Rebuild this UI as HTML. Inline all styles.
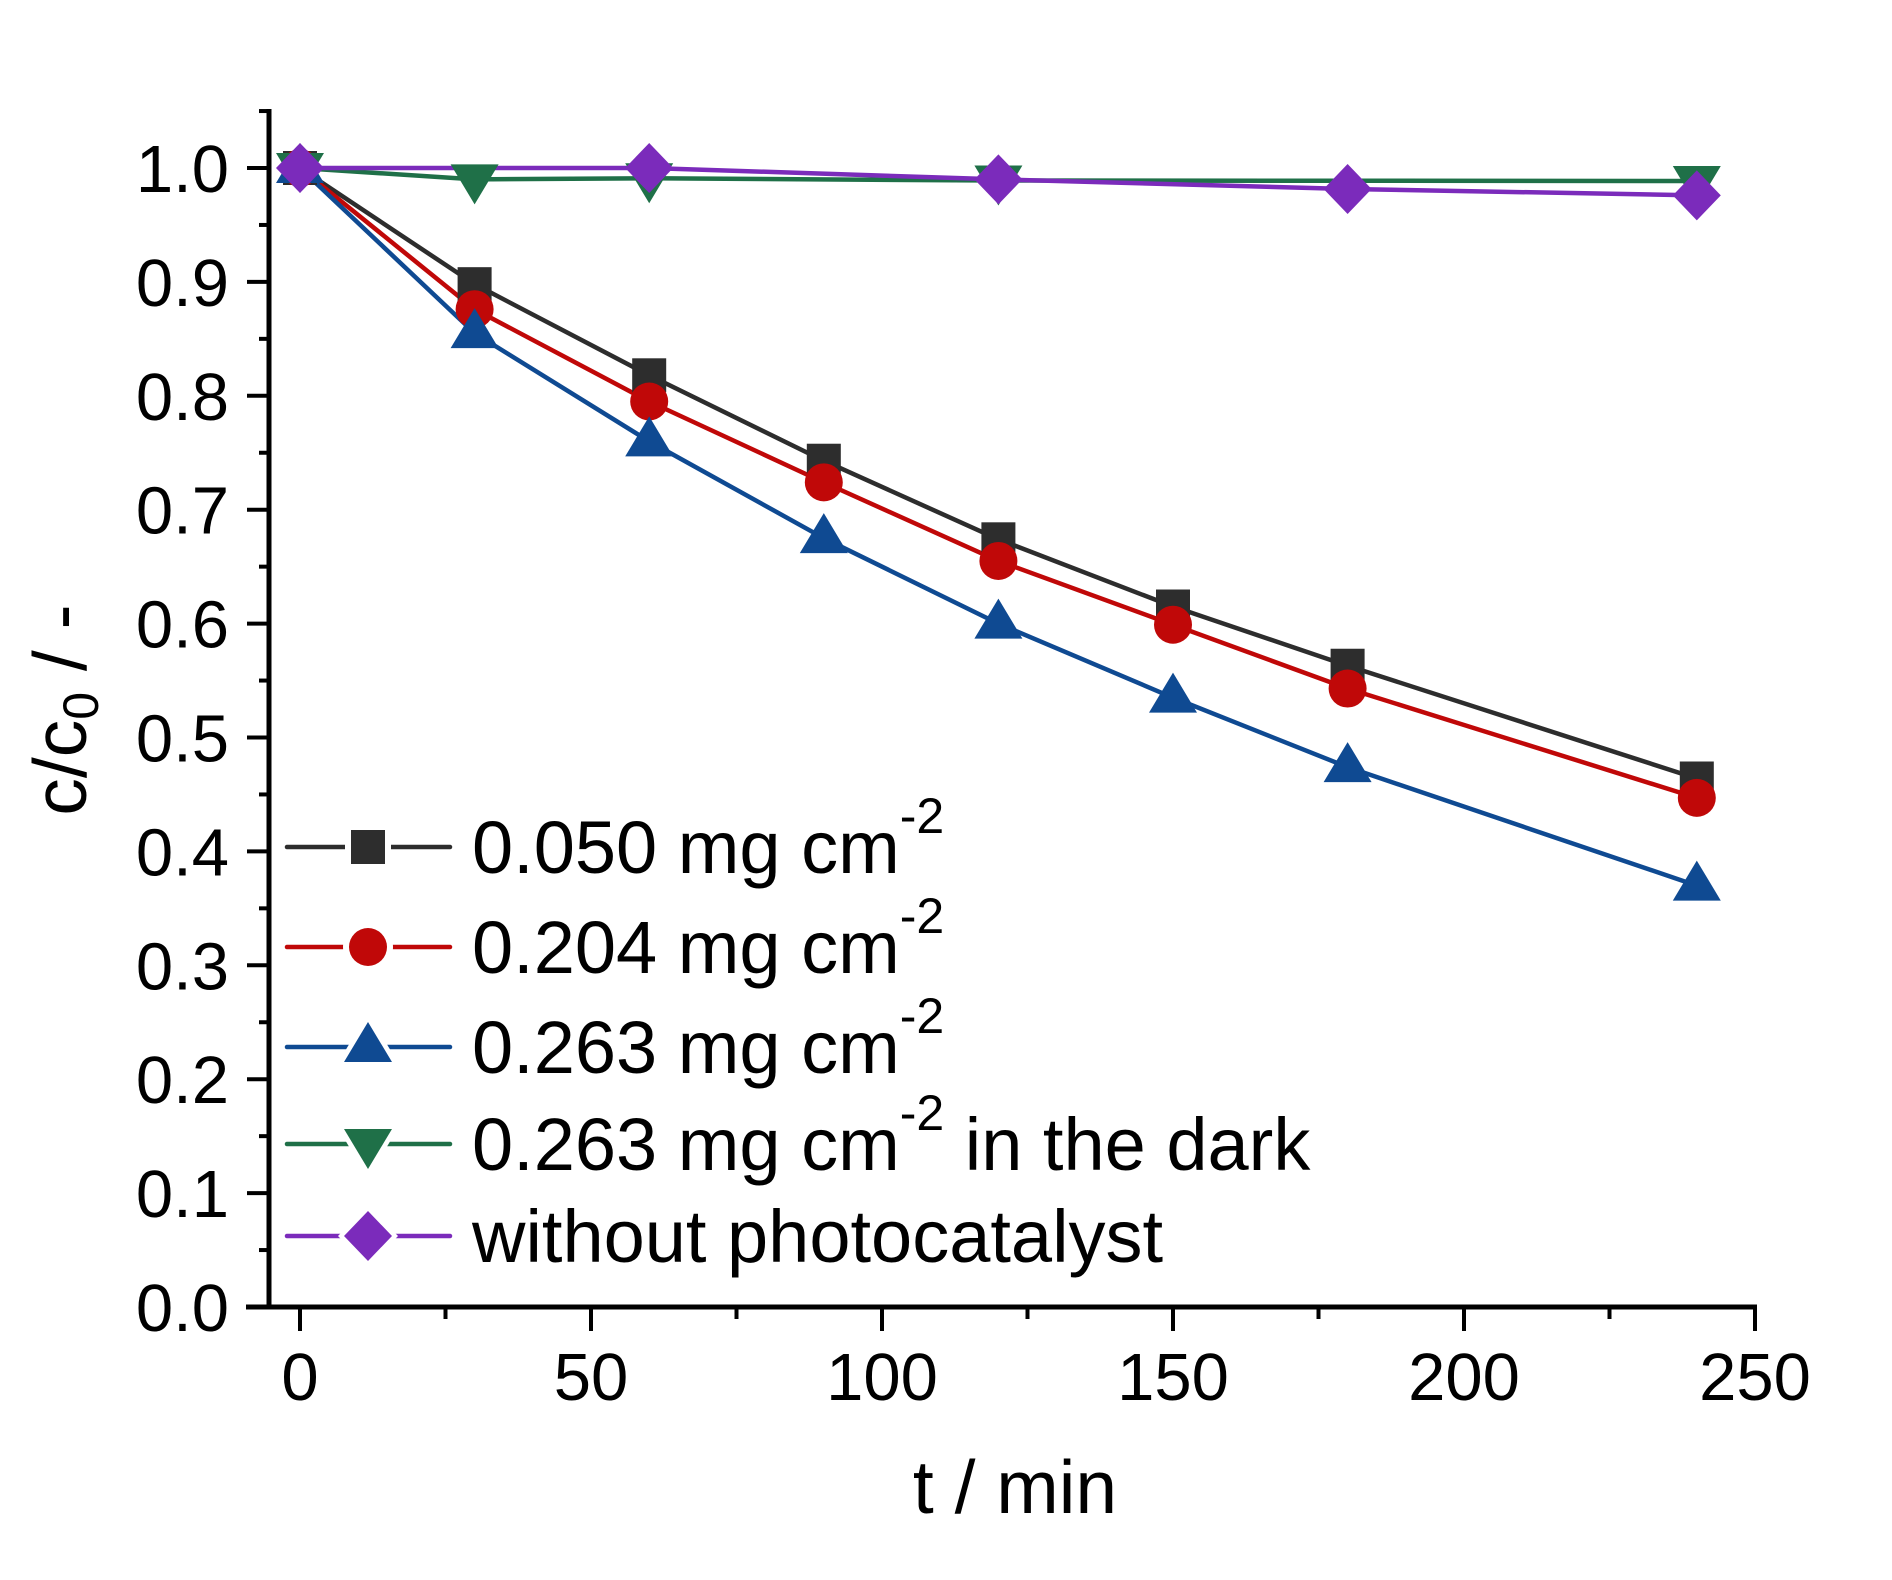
<!DOCTYPE html>
<html><head><meta charset="utf-8"><style>
html,body{margin:0;padding:0;background:#fff;}
svg{display:block;font-family:"Liberation Sans",Arial,sans-serif;}
</style></head><body>
<svg width="1892" height="1580" viewBox="0 0 1892 1580" xmlns="http://www.w3.org/2000/svg">
<rect width="1892" height="1580" fill="#fff"/>
<g id="plot"></g>
</svg>
<script>
const NS="http://www.w3.org/2000/svg";
const g=document.getElementById("plot");
function el(t,a,txt){const e=document.createElementNS(NS,t);for(const k in a)e.setAttribute(k,a[k]);if(txt!==undefined)e.textContent=txt;g.appendChild(e);return e;}
const X=t=>300+5.82*t, Y=v=>1307-1139*v;
el("line",{x1:269,y1:109,x2:269,y2:1309,stroke:"#000","stroke-width":5});
el("line",{x1:246,y1:1307,x2:1757,y2:1307,stroke:"#000","stroke-width":5});
for(let i=0;i<=10;i++){const y=Y(i/10);el("line",{x1:247,y1:y,x2:269,y2:y,stroke:"#000","stroke-width":4});
 el("text",{x:229,y:y+24,"font-size":67,"text-anchor":"end"},(i/10).toFixed(1));
 if(i<10){const ym=Y(i/10+0.05);el("line",{x1:259,y1:ym,x2:269,y2:ym,stroke:"#000","stroke-width":4});}}
el("line",{x1:259,y1:Y(1.05),x2:269,y2:Y(1.05),stroke:"#000","stroke-width":4});
for(let t=0;t<=250;t+=50){const x=X(t);el("line",{x1:x,y1:1307,x2:x,y2:1331,stroke:"#000","stroke-width":4});
 el("text",{x:x,y:1400,"font-size":67,"text-anchor":"middle"},String(t));
 if(t<250){el("line",{x1:X(t+25),y1:1307,x2:X(t+25),y2:1319,stroke:"#000","stroke-width":4});}}
el("text",{x:1015,y:1513,"font-size":75,"text-anchor":"middle"},"t / min");
const yl=el("text",{x:0,y:0,"font-size":75,"text-anchor":"middle",transform:"translate(86,710) rotate(-90)"});
yl.innerHTML='c/c<tspan font-size="50" dy="12">0</tspan><tspan dy="-12"> / -</tspan>';
function marker(type,x,y,col,pad){
 const s=pad?6:0;const f=pad?"#fff":col;
 if(type=="sq")el("rect",{x:x-17-s,y:y-17-s,width:34+2*s,height:34+2*s,fill:f});
 if(type=="ci")el("circle",{cx:x,cy:y,r:19+s,fill:f});
 if(type=="tu")el("polygon",{points:`${x},${y-25-s*1.6} ${x+24+s*1.5},${y+15+s} ${x-24-s*1.5},${y+15+s}`,fill:f});
 if(type=="td")el("polygon",{points:`${x},${y+25+s*1.6} ${x+24+s*1.5},${y-15-s} ${x-24-s*1.5},${y-15-s}`,fill:f});
 if(type=="di")el("polygon",{points:`${x},${y-25-s} ${x+24+s},${y} ${x},${y+25+s} ${x-24-s},${y}`,fill:f});
}
const series=[
 ["sq","#2d2d2d",[[0,1],[30,.898],[60,.818],[90,.743],[120,.674],[150,.615],[180,.563],[240,.464]]],
 ["ci","#c00808",[[0,1],[30,.876],[60,.795],[90,.724],[120,.655],[150,.599],[180,.543],[240,.447]]],
 ["tu","#0f4a92",[[0,1],[30,.855],[60,.76],[90,.675],[120,.60],[150,.535],[180,.474],[240,.37]]],
 ["td","#1f7048",[[0,1],[30,.99],[60,.991],[120,.989],[240,.9886]]],
 ["di","#7b2bbb",[[0,1],[60,1.0],[120,.99],[180,.9816],[240,.976]]]
];
for(const [m,c,d] of series){
 el("polyline",{points:d.map(p=>X(p[0])+","+Y(p[1])).join(" "),fill:"none",stroke:c,"stroke-width":4.5,"stroke-linejoin":"round"});
}
for(const [m,c,d] of series){for(const p of d){marker(m,X(p[0]),Y(p[1]),c,false);}}
const leg=[["sq","#2d2d2d","0.050 mg cm","",847],["ci","#c00808","0.204 mg cm","",947],["tu","#0f4a92","0.263 mg cm","",1047],["td","#1f7048","0.263 mg cm"," in the dark",1144],["di","#7b2bbb","without photocatalyst",null,1236]];
for(const [m,c,t,tail,y] of leg){
 el("line",{x1:287,y1:y,x2:450,y2:y,stroke:c,"stroke-width":4.5,"stroke-linecap":"round"});
 marker(m,368,y,c,true);marker(m,368,y,c,false);
 const tx=el("text",{x:472,y:y+26,"font-size":74});
 if(tail===null)tx.textContent=t;
 else tx.innerHTML=t+'<tspan font-size="50" dy="-40">-2</tspan><tspan dy="40">'+tail+'</tspan>';
}
</script>
</body></html>
